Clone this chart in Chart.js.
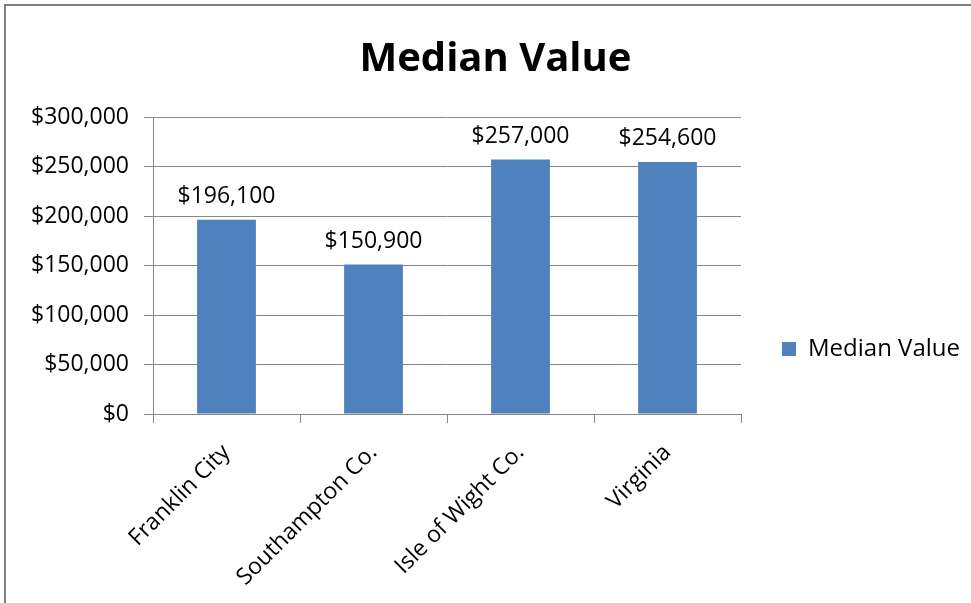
<!DOCTYPE html>
<html><head><meta charset="utf-8">
<script src="https://cdn.jsdelivr.net/npm/chart.js@4/dist/chart.umd.min.js"></script>
<style>html,body{margin:0;padding:0;background:#fff;overflow:hidden}#wrap{width:971px;height:603px}</style>
</head><body><div id="wrap"><canvas id="c" width="971" height="603"></canvas></div>
<script>
const categories = ['Franklin City', 'Southampton Co.', 'Isle of Wight Co.', 'Virginia'];
const medianValues = [196100, 150900, 257000, 254600];
const seriesName = 'Median Value';
const chartTitle = 'Median Value';
const yMin = 0, yMax = 300000, yStep = 50000;

const money = v => '$' + Number(v).toLocaleString('en-US');
Chart.defaults.font.family = '"Open Sans", sans-serif';
Chart.defaults.color = '#000';

const frame = {
  id: 'frame',
  beforeDraw(chart) {
    const c = chart.ctx; c.save();
    c.fillStyle = '#fff'; c.fillRect(0, 0, chart.width, chart.height);
    c.strokeStyle = '#808080'; c.lineWidth = 2;
    c.strokeRect(5, 5, chart.width + 40, chart.height + 40);
    c.restore();
  }
};
const valueLabels = {
  id: 'valueLabels',
  afterDatasetsDraw(chart) {
    const c = chart.ctx, meta = chart.getDatasetMeta(0), ds = chart.data.datasets[0];
    c.save(); c.font = '23px "Open Sans"'; c.fillStyle = '#000';
    c.textAlign = 'center'; c.textBaseline = 'alphabetic';
    meta.data.forEach((bar, i) => c.fillText(money(ds.data[i]), bar.x, bar.y - 17));
    c.restore();
  }
};
const pinBoxes = {
  id: 'pinBoxes',
  afterInit(chart) {
    const lg = chart.legend; if (!lg || lg._pinned) return;
    const f = lg.fit; lg.fit = function () { f.call(this); this.width = 230; }; lg._pinned = true;
  },
  afterLayout(chart) {
    const lg = chart.legend;
    if (lg) { const h = lg.bottom - lg.top; lg.left = 772; lg.right = 971; lg.top = 327; lg.bottom = lg.top + h; }
    const tb = chart.titleBlock;
    if (tb) { tb.left += 10; tb.right += 10; }
  }
};

new Chart(document.getElementById('c'), {
  type: 'bar',
  data: {
    labels: categories,
    datasets: [{ label: seriesName, data: medianValues, backgroundColor: '#4F81BD', borderWidth: 0,
      categoryPercentage: 1.0, barPercentage: 0.4 }]
  },
  options: {
    responsive: false, animation: false, devicePixelRatio: 1,
    layout: { padding: { top: 0, left: 0, right: 0, bottom: 0 } },
    plugins: {
      title: { display: true, text: chartTitle, font: { size: 40, weight: 'bold' }, color: '#000',
        padding: { top: 36, bottom: 33 } },
      legend: { position: 'right', align: 'start',
        labels: { boxWidth: 14, boxHeight: 14, padding: 10, font: { size: 24 }, color: '#000' } },
      tooltip: { enabled: false }
    },
    scales: {
      x: {
        grid: { display: true, drawOnChartArea: false, drawTicks: true, tickLength: 9, color: '#888', offset: true },
        border: { display: true, color: '#888' },
        ticks: { maxRotation: 45, minRotation: 45, autoSkip: false, font: { size: 23 }, color: '#000', padding: 16 },
        afterFit(s) { s.height = 603 - 414; }
      },
      y: {
        min: yMin, max: yMax,
        grid: { color: '#888', tickLength: 9, drawTicks: true },
        border: { display: true, color: '#888' },
        ticks: { stepSize: yStep, font: { size: 23 }, color: '#000', padding: 15, callback: v => money(v) },
        afterFit(s) { s.width = 153; }
      }
    }
  },
  plugins: [frame, valueLabels, pinBoxes]
});
</script></body></html>
